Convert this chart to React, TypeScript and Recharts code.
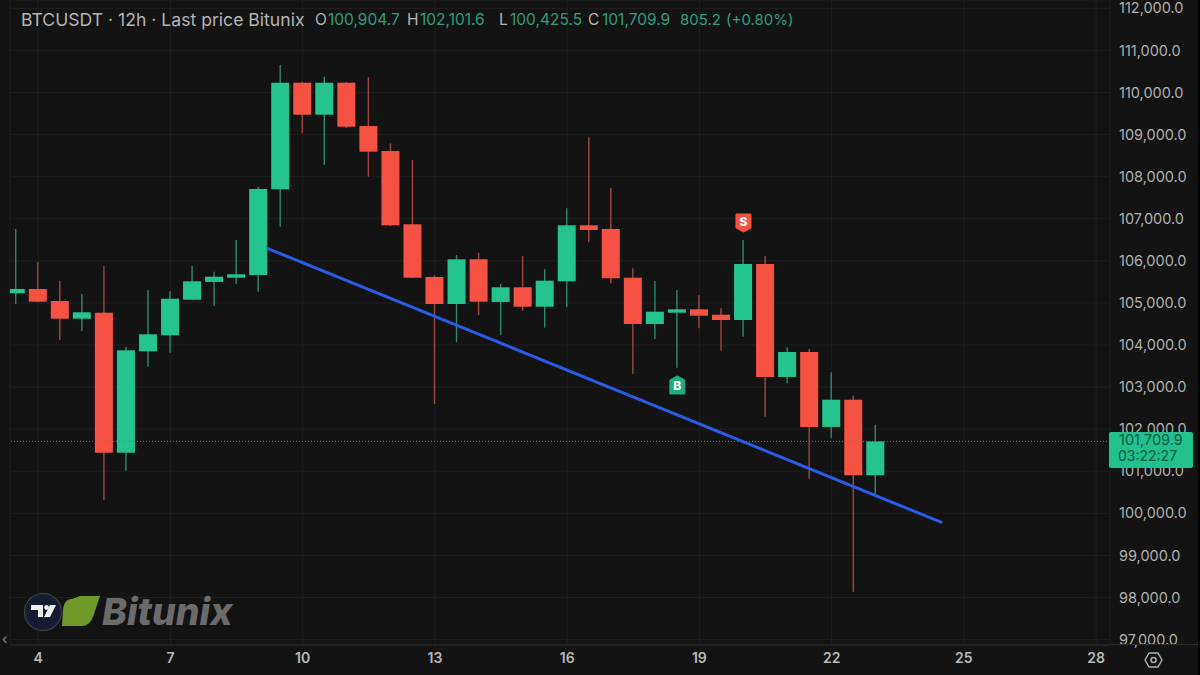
import { ComposedChart, Bar, Line, XAxis, YAxis, CartesianGrid, ReferenceLine, ReferenceDot } from 'recharts'

// 12h candles, left to right
const opens = [
  105228, 105331, 105045, 104625, 104767, 101441, 103850, 104230, 105076, 105497,
  105599, 105663, 107699, 110232, 109472, 110232, 109203, 108609, 106868, 105616,
  104974, 106036, 105022, 105371, 104910, 105513, 106844, 106756, 105599, 104499,
  104767, 104848, 104720, 104594, 105925, 103240, 103834, 102052, 102700, 100904.7,
]
const closes = [
  105331, 105029, 104625, 104777, 101441, 103874, 104254, 105100, 105513, 105623,
  105680, 107707, 110232, 109472, 110232, 109187, 108593, 106844, 105599, 104974,
  106036, 105029, 105371, 104910, 105528, 106844, 106732, 105585, 104499, 104791,
  104848, 104696, 104594, 105925, 103240, 103834, 102052, 102700, 100904, 101709.9,
]
const highs = [
  106756, 105972, 105521, 105212, 105877, 103960, 105307, 105283, 105877, 105742,
  106495, 107761, 110653, 110256, 110375, 110249, 110361, 108792, 108396, 105656,
  106138, 106193, 105449, 106115, 105799, 107248, 108935, 107737, 105822, 105521,
  105307, 105188, 104872, 106495, 106115, 103945, 103905, 103351, 102795, 102101.6,
]
const lows = [
  104974, 105022, 104119, 104333, 100317, 101013, 103484, 103817, 105069, 104927,
  105449, 105266, 106811, 109030, 108277, 109156, 107999, 106827, 105592, 102598,
  104064, 104713, 104238, 104808, 104411, 104910, 106440, 105466, 103311, 104143,
  103461, 104397, 103865, 104197, 102296, 103090, 100816, 101783, 98138, 100425.5,
]

const dayTicks = [1, 7, 13, 19, 25, 31, 37, 43, 49]
const dayLabels = ['4', '7', '10', '13', '16', '19', '22', '25', '28']
const priceTicks = [
  97000, 98000, 99000, 100000, 101000, 102000, 103000, 104000,
  105000, 106000, 107000, 108000, 109000, 110000, 111000, 112000,
]

const trendSlots = [11.39, 42.02]
const trendPrices = [106298, 99778]

const lastPrice = 101709.9
const buySignal = { slot: 30, price: 103050 }
const sellSignal = { slot: 33, price: 106899 }

const rows = opens.map((open, i) => ({
  slot: i,
  open,
  close: closes[i],
  high: highs[i],
  low: lows[i],
  range: [lows[i], highs[i]],
}))
const trend = trendSlots.map((slot, i) => ({ slot, price: trendPrices[i] }))

const UP = '#25c38e'
const DOWN = '#f55243'
const UP_WICK = '#2a8a6a'
const DOWN_WICK = '#a2463d'
const BG = '#131313'
const GRID = '#1f1f1f'
const FONT = 'Inter, "Noto Sans", sans-serif'
const BODY_W = 18

function Candle(props: any) {
  const { x, y, width, height, payload } = props
  const { open, close, high, low } = payload
  const perUnit = height / (high - low)
  const up = close >= open
  const top = y + (high - Math.max(open, close)) * perUnit
  const bodyH = Math.max(Math.abs(close - open) * perUnit, 1)
  const cx = x + width / 2
  return (
    <g>
      <line x1={cx} x2={cx} y1={y} y2={y + height} stroke={up ? UP_WICK : DOWN_WICK} strokeWidth={1.4} />
      <rect x={cx - BODY_W / 2} y={top} width={BODY_W} height={bodyH} fill={up ? UP : DOWN} />
    </g>
  )
}

function SignalTag({ cx, cy, letter, color, pointUp }: any) {
  const path = pointUp
    ? `M${cx - 7.5} ${cy + 9} V${cy - 5} L${cx} ${cy - 9} L${cx + 7.5} ${cy - 5} V${cy + 9} Z`
    : `M${cx - 7.5} ${cy - 9} H${cx + 7.5} V${cy + 5} L${cx} ${cy + 9} L${cx - 7.5} ${cy + 5} Z`
  return (
    <g>
      <path d={path} fill={color} stroke={color} strokeWidth={1} strokeLinejoin="round" />
      <text x={cx} y={cy + (pointUp ? 5.5 : 3.5)} textAnchor="middle" fill="#fff" fontSize={12} fontWeight={800} fontFamily={FONT}>
        {letter}
      </text>
    </g>
  )
}

const fmtPrice = (v: number) =>
  v.toLocaleString('en-US', { minimumFractionDigits: 1, maximumFractionDigits: 1 })

const abs = (left: number, top: number, extra: any = {}) => ({
  position: 'absolute' as const,
  left,
  top,
  lineHeight: '20px',
  whiteSpace: 'nowrap' as const,
  ...extra,
})

const headLabel = '#b4b4b4'
const headValue = '#2f9d7c'

export default function App() {
  return (
    <div style={{ position: 'absolute', left: 0, top: 0, width: 1200, height: 675, background: BG, overflow: 'hidden', fontFamily: FONT }}>
      <ComposedChart width={1200} height={675} data={rows} margin={{ top: 0, right: 0, bottom: 0, left: 10 }}>
        <CartesianGrid stroke={GRID} strokeWidth={1} />
        <XAxis
          dataKey="slot"
          type="number"
          domain={[-0.28, 49.63]}
          allowDataOverflow
          ticks={dayTicks}
          interval={0}
          height={30}
          tickFormatter={(v: number) => dayLabels[dayTicks.indexOf(v)]}
          axisLine={{ stroke: '#2a2a2a' }}
          tickLine={false}
          tick={{ fill: '#b8b8b8', fontSize: 14, fontWeight: 600, fontFamily: FONT }}
        />
        <YAxis
          orientation="right"
          type="number"
          domain={[96872, 112197]}
          allowDataOverflow
          ticks={priceTicks}
          interval={0}
          width={90}
          tickFormatter={fmtPrice}
          axisLine={false}
          tickLine={false}
          tick={{ fill: '#b0b0b0', fontSize: 14.5, fontFamily: FONT, dx: 1 }}
        />
        <ReferenceLine y={lastPrice} stroke="#2f9e78" strokeDasharray="1 2" strokeWidth={1} />
        <Bar dataKey="range" barSize={18} shape={<Candle />} isAnimationActive={false} />
        <Line
          data={trend}
          dataKey="price"
          stroke="#2b5be6"
          strokeWidth={3}
          dot={false}
          isAnimationActive={false}
        />
        <ReferenceDot
          x={buySignal.slot}
          y={buySignal.price}
          shape={(p: any) => <SignalTag cx={p.cx} cy={p.cy} letter="B" color="#1fae80" pointUp />}
        />
        <ReferenceDot
          x={sellSignal.slot}
          y={sellSignal.price}
          shape={(p: any) => <SignalTag cx={p.cx} cy={p.cy} letter="S" color={DOWN} />}
        />
      </ComposedChart>

      {/* header */}
      <div style={abs(21, 10, { color: headLabel, fontSize: 17.6 })}>BTCUSDT · 12h · Last price Bitunix</div>
      <div style={abs(315, 10, { color: headLabel, fontSize: 15.5 })}>O</div>
      <div style={abs(328, 10, { color: headValue, fontSize: 15.5 })}>100,904.7</div>
      <div style={abs(407, 10, { color: headLabel, fontSize: 15.5 })}>H</div>
      <div style={abs(420, 10, { color: headValue, fontSize: 15.5 })}>102,101.6</div>
      <div style={abs(499, 10, { color: headLabel, fontSize: 15.5 })}>L</div>
      <div style={abs(510, 10, { color: headValue, fontSize: 15.5 })}>100,425.5</div>
      <div style={abs(588, 10, { color: headLabel, fontSize: 15.5 })}>C</div>
      <div style={abs(602, 10, { color: headValue, fontSize: 15.5 })}>101,709.9</div>
      <div style={abs(680, 10, { color: headValue, fontSize: 15 })}>805.2</div>
      <div style={abs(726, 10, { color: headValue, fontSize: 15 })}>(+0.80%)</div>

      {/* last price tag */}
      <div style={{ position: 'absolute', left: 1109, top: 432, width: 84, height: 36, background: '#21c08c', borderRadius: 2 }} />
      <div style={abs(1119, 430, { color: '#0d5a42', fontSize: 14.5 })}>101,709.9</div>
      <div style={abs(1118, 446, { color: '#0d5a42', fontSize: 14 })}>03:22:27</div>

      {/* bottom axis runs under the price scale too */}
      <div style={{ position: 'absolute', left: 1110, top: 644, width: 88, height: 1, background: '#2a2a2a' }} />

      {/* watermark */}
      <svg style={{ position: 'absolute', left: 20, top: 590 }} width={90} height={45}>
        <circle cx={23} cy={22} r={18.5} fill="#151c30" stroke="#3d424d" strokeWidth={1.2} />
        <path d="M11 15 H23 V27 H18 V20 H11 Z" fill="#eee" />
        <circle cx={26.5} cy={17.5} r={2.4} fill="#eee" />
        <path d="M30 15 H36 L30 27 H24 Z" fill="#eee" />
        <path d="M52 9 C46 9 44 13 43 20 L42 36 H62 C69 36 72 30 74 24 L80 6 H60 Z" fill="#6f9a2a" />
      </svg>
      <div style={abs(102, 592, { color: '#6b6b6b', fontSize: 37.5, fontWeight: 800, fontStyle: 'italic', lineHeight: '40px', fontFamily: 'Inter, sans-serif' })}>
        Bitunix
      </div>

      <div style={abs(2, 629, { color: '#8a8a8a', fontSize: 14 })}>‹</div>

      {/* settings */}
      <svg style={{ position: 'absolute', left: 1144, top: 651 }} width={19} height={18} fill="none" stroke="#b0b0b0" strokeWidth={1.5}>
        <path d="M5 2 H14 L18 9 L14 16 H5 L1 9 Z" strokeLinejoin="round" />
        <circle cx={9.5} cy={9} r={2.5} />
      </svg>

      <div style={{ position: 'absolute', left: 1198, top: 0, width: 2, height: 675, background: '#000' }} />
    </div>
  )
}
